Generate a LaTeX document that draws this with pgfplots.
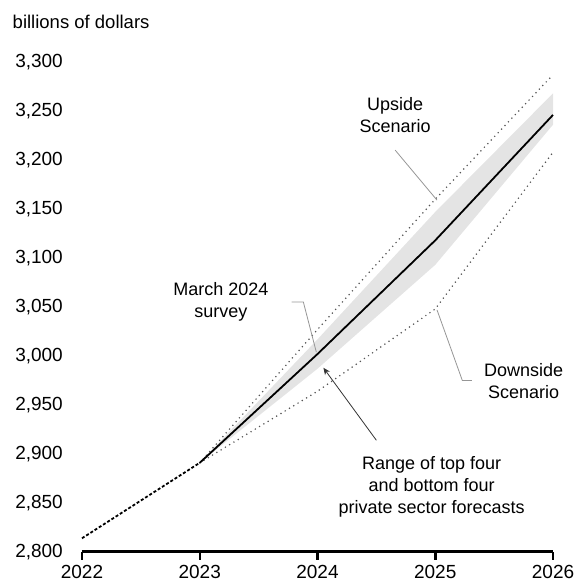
\documentclass[border=0pt]{standalone}
\usepackage{fontspec}
\setmainfont{Liberation Sans}
\usepackage{pgfplots}
\pgfplotsset{compat=1.18}
\usetikzlibrary{arrows.meta}

\definecolor{band}{RGB}{228,228,228}
\definecolor{dots}{RGB}{85,85,85}
\definecolor{lead}{RGB}{150,150,150}

\begin{document}
\begin{tikzpicture}[font=\fontsize{18}{22}\selectfont]
\begin{axis}[
  name=ax,
  scale only axis,
  width=471pt, height=490pt,
  xmin=2022, xmax=2026, ymin=2800, ymax=3300,
  axis x line=bottom, axis y line=left,
  x axis line style={-, line width=3pt},
  y axis line style={draw=none},
  xtick={2022,2023,2024,2025,2026},
  ytick={2800,2850,...,3300},
  tick align=outside,
  major tick length=8pt,
  xtick style={line width=2.5pt, black},
  ytick style={draw=none},
  tick label style={font=\fontsize{19}{22}\selectfont},
  /pgf/number format/assume math mode=true,
  xticklabel style={/pgf/number format/1000 sep={}, yshift=-2pt},
  yticklabel style={/pgf/number format/1000 sep={,}, inner xsep=0pt, xshift=-11pt},
  clip=false,
]
  % range of top four / bottom four private forecasts
  \addplot[fill=band, draw=none] coordinates {
    (2023,2891) (2024,3017) (2025,3147) (2026,3268)
    (2026,3236) (2025,3093) (2024,2987) (2023,2891)
  } -- cycle;

  % upside and downside scenarios
  \addplot[dots, line width=1.7pt, line cap=round, dash pattern=on 0pt off 5pt] coordinates {
    (2023,2891) (2024,3027) (2025,3160) (2026,3287)
  };
  \addplot[dots, line width=1.7pt, line cap=round, dash pattern=on 0pt off 5pt] coordinates {
    (2023,2891) (2024,2964) (2025,3048) (2026,3208)
  };

  % history and March 2024 survey
  \addplot[black, line width=1.8pt, dash pattern=on 3pt off 2pt] coordinates {
    (2022,2814) (2023,2891)
  };
  \addplot[black, line width=1.8pt] coordinates {
    (2023,2891) (2024,3002) (2025,3118) (2026,3246)
  };

  % annotations
  \node[anchor=west, inner sep=0pt] at (axis cs:2021.41,3341) {\fontsize{18.5}{22}\selectfont billions of dollars};

  \node[align=center] at (axis cs:2024.66,3246) {Upside\\Scenario};
  \draw[lead, line width=0.8pt] (axis cs:2024.66,3210) -- (axis cs:2025.015,3159);

  \node[align=center] at (axis cs:2023.18,3055) {March 2024\\survey};
  \draw[lead, line width=0.8pt] (axis cs:2023.78,3055) -- (axis cs:2023.88,3055) -- (axis cs:2023.99,3004);

  \node[align=center] at (axis cs:2025.75,2974) {Downside\\Scenario};
  \draw[lead, line width=0.8pt] (axis cs:2025.31,2975) -- (axis cs:2025.23,2975) -- (axis cs:2025.015,3047);

  \node[align=center] at (axis cs:2024.97,2866) {Range of top four\\and bottom four\\private sector forecasts};
  \draw[black!80, line width=0.8pt, -{Stealth[length=7pt,width=6pt]}] (axis cs:2024.50,2914) -- (axis cs:2024.05,2988);
\end{axis}
\pgfresetboundingbox
\path[use as bounding box] ([xshift=-82pt,yshift=-35pt]ax.south west) rectangle ([xshift=29pt,yshift=62pt]ax.north east);
\end{tikzpicture}
\end{document}
